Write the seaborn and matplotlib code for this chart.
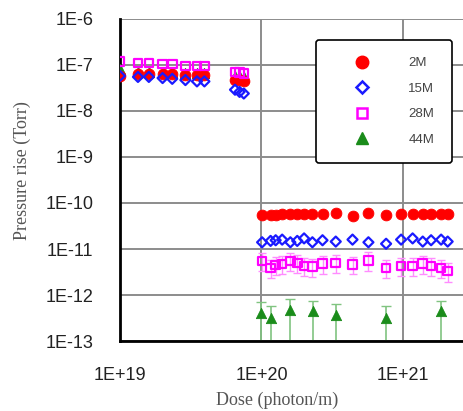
import numpy as np
import pandas as pd
import matplotlib
matplotlib.use("Agg")
import matplotlib.pyplot as plt
import matplotlib.ticker as mticker
from matplotlib.lines import Line2D
import seaborn as sns

# ── Data ──────────────────────────────────────────────────────
low_dose = [1.0e19, 1.34e19, 1.6e19, 2.0e19, 2.34e19, 2.9e19, 3.5e19, 3.95e19, 6.5e19, 7.0e19, 7.5e19]
high_dose = [1.01e20, 1.16e20, 1.26e20, 1.4e20, 1.6e20, 1.79e20, 2.0e20, 2.29e20, 2.7e20, 3.35e20,
             4.4e20, 5.7e20, 7.6e20, 9.7e20, 1.17e21, 1.38e21, 1.58e21, 1.86e21, 2.07e21]
green_dose = [1.0e20, 1.16e20, 1.58e20, 2.3e20, 3.35e20, 7.6e20, 1.86e21]

p2M_low = [5.8e-8, 6.5e-8, 6.5e-8, 6.3e-8, 6.3e-8, 6.2e-8, 6.0e-8, 6.0e-8, 4.8e-8, 4.7e-8, 4.6e-8]
p15M_low = [5.8e-8, 5.5e-8, 5.5e-8, 5.2e-8, 5.0e-8, 4.7e-8, 4.4e-8, 4.4e-8, 2.9e-8, 2.6e-8, 2.4e-8]
p28M_low = [1.2e-7, 1.1e-7, 1.1e-7, 1.05e-7, 1.05e-7, 9.5e-8, 9.5e-8, 9.5e-8, 7.0e-8, 6.8e-8, 6.5e-8]
p44M_low = [8.0e-8, 7.2e-8, 7.2e-8, 7.0e-8, 7.0e-8, 6.8e-8, 6.8e-8, 6.8e-8, 5.8e-8, 5.6e-8, 5.5e-8]

p2M_high = [5.5e-11, 5.6e-11, 5.6e-11, 5.8e-11, 5.8e-11, 5.8e-11, 5.9e-11, 5.8e-11, 5.8e-11, 6.0e-11,
            5.1e-11, 6.2e-11, 5.6e-11, 5.8e-11, 5.8e-11, 5.7e-11, 5.8e-11, 5.9e-11, 5.8e-11]
p15M_high = [1.4e-11, 1.5e-11, 1.55e-11, 1.6e-11, 1.4e-11, 1.5e-11, 1.7e-11, 1.4e-11, 1.55e-11, 1.45e-11,
             1.6e-11, 1.4e-11, 1.3e-11, 1.6e-11, 1.7e-11, 1.45e-11, 1.55e-11, 1.6e-11, 1.45e-11]
p28M_high = [5.5e-12, 3.9e-12, 4.5e-12, 4.7e-12, 5.5e-12, 5.0e-12, 4.3e-12, 4.2e-12, 4.8e-12, 5.0e-12,
             4.6e-12, 5.7e-12, 3.9e-12, 4.3e-12, 4.3e-12, 4.8e-12, 4.3e-12, 3.9e-12, 3.3e-12]
p28M_err_lo = [2.2e-12, 1.6e-12, 1.8e-12, 1.9e-12, 2.2e-12, 2.0e-12, 1.7e-12, 1.7e-12, 1.9e-12, 2.0e-12,
               1.8e-12, 2.3e-12, 1.6e-12, 1.7e-12, 1.7e-12, 1.9e-12, 1.7e-12, 1.6e-12, 1.4e-12]
p28M_err_hi = [2.5e-12, 1.9e-12, 2.2e-12, 2.3e-12, 2.6e-12, 2.4e-12, 2.1e-12, 2.0e-12, 2.3e-12, 2.4e-12,
               2.2e-12, 2.7e-12, 1.9e-12, 2.1e-12, 2.1e-12, 2.3e-12, 2.1e-12, 1.9e-12, 1.6e-12]
p44M_high = [4.1e-13, 3.2e-13, 4.7e-13, 4.4e-13, 3.7e-13, 3.2e-13, 4.4e-13]
p44M_err_hi = [3.0e-13, 2.5e-13, 3.3e-13, 3.0e-13, 2.6e-13, 2.5e-13, 3.0e-13]

labels = ["2M", "15M", "28M", "44M"]
colors = {"2M": "#ff0000", "15M": "#1a1aff", "28M": "#ff00ff", "44M": "#1a8c1a"}

df = pd.concat([
    pd.DataFrame({"dose": low_dose + high_dose, "p": p2M_low + p2M_high, "series": "2M"}),
    pd.DataFrame({"dose": low_dose + high_dose, "p": p15M_low + p15M_high, "series": "15M"}),
    pd.DataFrame({"dose": low_dose + high_dose, "p": p28M_low + p28M_high, "series": "28M"}),
    pd.DataFrame({"dose": low_dose + green_dose, "p": p44M_low + p44M_high, "series": "44M"}),
], ignore_index=True)

# ── Plot ──────────────────────────────────────────────────────
sns.set_style("white")
plt.rcParams["font.family"] = ["Liberation Sans", "DejaVu Sans"]

fig = plt.figure(figsize=(4.64, 4.11), dpi=100)
ax = fig.add_axes([0.2586, 0.1703, 0.7414, 0.7835])
ax.set_xscale("log")
ax.set_yscale("log")

# error bars (light, behind the markers)
ax.errorbar(high_dose, p28M_high, yerr=[p28M_err_lo, p28M_err_hi], fmt="none",
            ecolor="#ff8cff", elinewidth=1, capsize=3, zorder=2)
green_lo = [v - 1e-15 for v in p44M_high]
ax.errorbar(green_dose, p44M_high, yerr=[green_lo, p44M_err_hi], fmt="none",
            ecolor="#80c480", elinewidth=1.2, capsize=3.5, zorder=2)

# 44M first (behind), then the rest
d = df[df.series == "44M"]
sns.scatterplot(data=d, x="dose", y="p", marker="^", s=55, color=colors["44M"],
                edgecolor=colors["44M"], ax=ax, zorder=3)
d = df[df.series == "28M"]
sns.scatterplot(data=d, x="dose", y="p", marker="s", s=38, facecolors="none",
                edgecolor=colors["28M"], linewidth=1.6, ax=ax, zorder=4)
d = df[df.series == "15M"]
sns.scatterplot(data=d, x="dose", y="p", marker="D", s=26, facecolors="none",
                edgecolor=colors["15M"], linewidth=1.6, ax=ax, zorder=4)
d = df[df.series == "2M"]
sns.scatterplot(data=d, x="dose", y="p", marker="o", s=60, color=colors["2M"],
                edgecolor=colors["2M"], ax=ax, zorder=3)

ax.set_xlim(1e19, 2.7e21)
ax.set_ylim(1e-13, 1e-6)

ax.yaxis.set_major_locator(mticker.LogLocator(base=10, numticks=10))
ax.yaxis.set_minor_locator(mticker.LogLocator(base=10, subs=np.arange(2, 10), numticks=20))
ax.xaxis.set_major_locator(mticker.FixedLocator([1e19, 1e20, 1e21]))
ax.xaxis.set_minor_locator(mticker.LogLocator(base=10, subs=np.arange(2, 10), numticks=20))
ax.yaxis.set_major_formatter(mticker.FuncFormatter(lambda v, _: "1E%d" % round(np.log10(v))))
ax.xaxis.set_major_formatter(mticker.FuncFormatter(lambda v, _: "1E+%d" % round(np.log10(v))))
ax.yaxis.set_minor_formatter(mticker.NullFormatter())
ax.xaxis.set_minor_formatter(mticker.NullFormatter())

ax.grid(True, which="major", color="#8c8c8c", linewidth=1.4)
ax.set_axisbelow(True)
for s in ["top", "right"]:
    ax.spines[s].set_visible(False)
for s in ["left", "bottom"]:
    ax.spines[s].set_color("black")
    ax.spines[s].set_linewidth(2)

ax.tick_params(which="major", direction="inout", length=20, width=1.3, color="black",
               labelsize=13, labelcolor="#222222", pad=9)
ax.tick_params(which="minor", direction="out", length=5, width=1, color="black")

ax.set_xlabel("Dose (photon/m)", family=["Liberation Serif", "DejaVu Serif"],
              fontsize=13, color="#555555")
ax.set_ylabel("Pressure rise (Torr)", family=["Liberation Serif", "DejaVu Serif"],
              fontsize=13, color="#555555")
ax.xaxis.set_label_coords(0.458, -0.158)
ax.yaxis.set_label_coords(-0.26, 0.528)

# legend
handles = [
    Line2D([], [], ls="none", marker="o", ms=9, mfc=colors["2M"], mec=colors["2M"]),
    Line2D([], [], ls="none", marker="D", ms=6, mfc="none", mec=colors["15M"], mew=1.8),
    Line2D([], [], ls="none", marker="s", ms=7, mfc="none", mec=colors["28M"], mew=1.8),
    Line2D([], [], ls="none", marker="^", ms=8, mfc=colors["44M"], mec=colors["44M"]),
]
leg = ax.legend(handles, labels, loc="upper left", bbox_to_anchor=(0.57, 0.935),
                frameon=True, fancybox=True, edgecolor="black", framealpha=1,
                fontsize=9.5, labelspacing=1.0, handletextpad=1.3, borderpad=1.3,
                handlelength=4.4, borderaxespad=0)
leg.get_frame().set_linewidth(1.2)
for t in leg.get_texts():
    t.set_color("#444444")

fig.savefig("out.png", dpi=100)
